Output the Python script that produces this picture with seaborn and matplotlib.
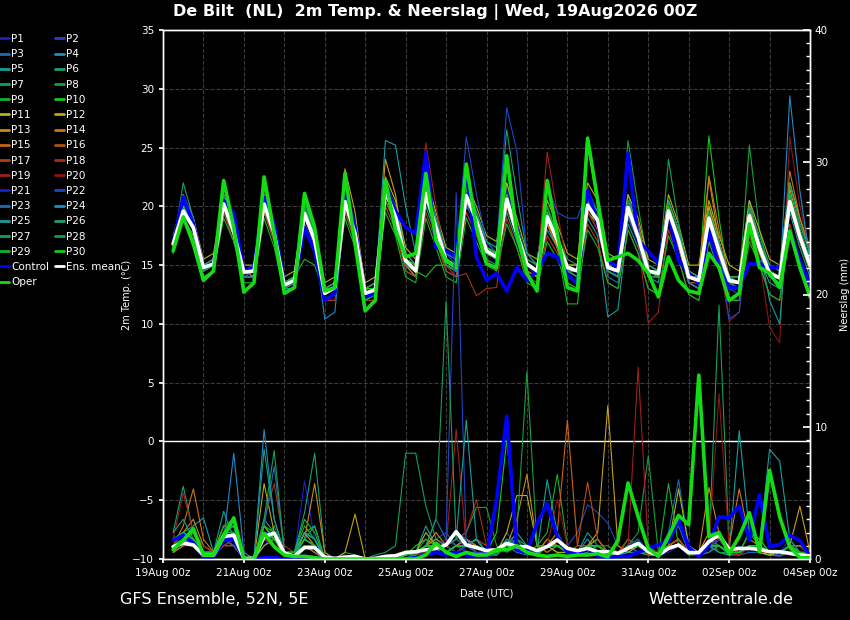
import numpy as np
import pandas as pd
import seaborn as sb
import matplotlib
matplotlib.use('Agg')
import matplotlib.pyplot as plt
from matplotlib.lines import Line2D
from matplotlib.ticker import MultipleLocator
import matplotlib.dates as mdates

# 6-hourly steps, 19Aug 06z .. 04Sep 00z
times = pd.date_range('2026-08-19 06:00', periods=64, freq='6h')

member_names = ['P' + str(i + 1) for i in range(30)]
base_colors = ['#1e1ec8', '#1e46c8', '#1e6eb4', '#1e8cc8', '#14a0a0',
               '#14a07a', '#14a05a', '#14a03c', '#14b428', '#14c814',
               '#b4b414', '#c8a014', '#c88c14', '#c87814', '#c86414',
               '#b45014', '#b43c14', '#a03214', '#a01e1e', '#8c1414']
member_colors = base_colors + base_colors[:10]

# 2m temperature (C)
temp_mean = [16.8, 19.6, 18.2, 14.8, 15.1, 20.2, 17.8, 14.4, 14.5, 20.2, 17.7,
             13.3, 13.7, 19.4, 17.1, 12.6, 13.1, 20.4, 17.7, 12.6, 12.9, 21.3,
             19.1, 15.4, 14.5, 21.1, 18.2, 15.4, 14.8, 20.9, 18.8, 16.2, 15.7,
             20.6, 17.7, 15.1, 14.5, 19.1, 17.1, 14.8, 14.5, 20.1, 18.8, 14.8,
             14.5, 19.9, 17.4, 14.5, 14.3, 19.6, 17.1, 14.0, 13.7, 19.0, 16.2,
             13.7, 13.5, 19.2, 16.5, 14.3, 13.9, 20.4, 17.4, 15.0]
temp_control = [16.8, 20.8, 18.5, 14.8, 15.1, 20.5, 19.4, 14.5, 14.8, 20.8, 18.5,
                13.4, 13.6, 18.2, 16.2, 12.0, 12.6, 21.6, 18.2, 12.3, 12.6, 21.9,
                19.6, 18.2, 17.7, 24.5, 16.5, 16.2, 15.7, 23.3, 15.7, 13.7, 14.3,
                12.8, 14.8, 13.7, 14.5, 16.0, 15.7, 14.2, 13.4, 21.3, 18.5, 15.4,
                14.8, 24.5, 17.1, 16.2, 15.1, 19.4, 15.4, 14.3, 13.4, 17.9, 14.8,
                13.1, 13.1, 15.1, 15.1, 14.8, 14.8, 17.9, 15.4, 13.4]
temp_oper = [16.2, 19.1, 16.8, 13.7, 14.5, 22.2, 18.2, 12.7, 13.5, 22.5, 17.7,
             12.6, 13.1, 21.1, 18.2, 12.8, 13.1, 22.8, 16.8, 11.1, 12.0, 22.2,
             18.0, 15.7, 16.0, 22.8, 17.1, 15.4, 14.8, 23.6, 18.2, 15.1, 14.8,
             24.3, 17.7, 14.3, 12.8, 22.2, 17.7, 13.1, 12.8, 25.8, 20.5, 15.4,
             15.7, 16.0, 15.4, 14.3, 12.3, 15.7, 13.7, 12.8, 12.6, 16.0, 14.8,
             12.0, 12.6, 18.5, 14.8, 14.3, 13.1, 17.9, 14.8, 12.3]
temp_members = [
    [17, 20.5, 18.5,  15, 15.5, 21, 18,  14.5, 14.5, 20.5, 18,  13.5, 14, 20, 17,  12.5, 13, 21, 18,  12.5, 13, 22, 19.5,  15, 14.5, 22, 18,  15, 14, 21, 18.5,  16, 15.5, 21.5, 18,  15, 14, 19, 17,  14.5, 14, 21, 19,  15, 14, 20.5, 17,  14, 14, 19, 16.5,  13.5, 13, 18.5, 16,  13, 13, 19, 16,  14, 13.5, 21, 17,  15],
    [16.5, 20, 18,  14.5, 15, 20, 17.5,  14, 14.5, 20, 17.5,  13, 13.5, 19, 17,  12.5, 13, 20, 17.5,  12.5, 13, 21, 19,  15.5, 15, 21.5, 18.5,  16, 15, 22, 19.5,  17, 16.5, 28.4, 24.7,  16, 15, 19.5, 17,  15, 14.5, 20, 18.5,  14.5, 14, 19, 17,  14.5, 14, 19.5, 17,  14, 13.5, 18.5, 16,  13, 12.5, 19, 16.5,  14.5, 14, 20, 17.5,  15.5],
    [17, 19.5, 18,  14.5, 15, 20.5, 18,  14.5, 14, 19.5, 17.5,  13.5, 13.5, 19.5, 17.5,  12.5, 13, 20, 17.5,  12, 12.5, 21, 19,  15, 14, 20.5, 18,  15.5, 15, 20, 18.5,  16.5, 15.5, 20.5, 17.5,  15, 14.5, 18.5, 16.5,  14.5, 14, 19.5, 18.5,  14, 13.5, 19, 17.5,  14.5, 14, 20, 17.5,  14, 13.5, 18.5, 16,  13.5, 13.5, 18.5, 16,  14, 13.5, 20.5, 17,  14.5],
    [17, 20, 18.5,  15, 15, 20, 17.5,  14.5, 14.5, 20.5, 18,  13, 13.5, 19.5, 17,  12.5, 13, 20.5, 18,  13, 13, 21.5, 19.5,  15.5, 14.5, 21, 18,  15, 14.5, 21.5, 19,  16, 15.5, 20, 17.5,  15, 14.5, 19, 17.5,  15, 14.5, 20.5, 19,  15, 14.5, 19.5, 17,  14.5, 14, 19, 17,  14, 13.5, 19.5, 16.5,  13.5, 13.5, 19, 16.5,  14.5, 14, 21, 17.5,  15],
    [16.5, 19, 17.5,  14.5, 15, 19.5, 17.5,  14, 14, 19.5, 17,  13, 13, 18.5, 16.5,  12, 12.5, 19.5, 17,  12, 12.5, 20.5, 18.5,  14.5, 14, 20, 17.5,  14.5, 14, 20.5, 18,  15.5, 15, 19.5, 17,  14.5, 14, 18, 16.5,  14, 13.5, 19, 17.5,  10.6, 11.2, 18.5, 16.5,  14, 13.5, 19, 16.5,  13.5, 13, 18, 15.5,  13, 13, 18.5, 15.5,  13.5, 13, 19.5, 16.5,  14],
    [17, 21, 19,  15, 15.5, 21, 18,  14.5, 15, 21, 18.5,  13.5, 14, 20, 17.5,  13, 13.5, 21, 18,  13, 13.5, 22, 19.5,  15.5, 15, 22, 19,  16, 15.5, 22, 19.5,  17, 16, 22, 18.5,  15.5, 15, 20, 17.5,  15, 15, 21, 19.5,  15, 15, 21, 18,  15, 14.5, 20.5, 18,  14.5, 14, 20, 17,  14, 14, 20.5, 17,  15, 14.5, 22, 18.5,  16],
    [16.5, 19.5, 18,  14.5, 15, 20, 18,  14.5, 14.5, 20, 17.5,  13.5, 14, 19.5, 17,  12.5, 13, 20.5, 18,  12.5, 12.5, 21, 19,  15, 14.5, 21, 18,  15, 14.5, 21, 19,  16.5, 16, 21, 17.5,  15, 14.5, 19, 17,  14.5, 14.5, 20, 18.5,  14.5, 14, 20, 17.5,  14.5, 14, 19.5, 17,  14, 13.5, 18, 15.5,  13.5, 13.5, 19, 16.5,  14, 14, 20, 17,  15],
    [17, 20, 18.5,  15, 15, 20, 18,  14, 14.5, 20.5, 18,  13, 13.5, 19, 17,  12.5, 13, 20, 17.5,  12.5, 13, 21, 19,  15.5, 14.5, 21, 18.5,  15.5, 15, 21, 19,  16, 15.5, 20.5, 18,  15, 14.5, 19.5, 17.5,  15, 14.5, 20, 19,  15, 14.5, 25.6, 20,  15, 14.5, 20, 17.5,  14, 14, 19.5, 16.5,  14, 13.5, 25.2, 18,  14.5, 14, 20.5, 17.5,  15],
    [16.5, 19.5, 18,  14.5, 15, 20, 17.5,  14.5, 14.5, 20, 17.5,  13.5, 14, 15.5, 15,  12.5, 13, 20, 17.5,  12.5, 13, 21, 19,  15, 14.5, 20.5, 18,  15, 14.5, 20.5, 18.5,  16, 15.5, 20, 17.5,  14.5, 14, 18.5, 16.5,  11.7, 11.7, 19.5, 18.5,  14.5, 14, 19.5, 17,  14.5, 14, 19.5, 17,  14, 13.5, 18.5, 16,  13.5, 13, 19, 16.5,  14, 13.5, 20, 17,  14.5],
    [17, 20, 18,  15, 15, 20.5, 18,  14.5, 14.5, 20.5, 18,  13.5, 14, 19.5, 17.5,  12.5, 13, 20.5, 17.5,  12.5, 13, 21.5, 19,  15, 14.5, 14, 15,  15, 14.5, 21, 19,  16, 15.5, 21, 18,  15, 14.5, 19, 17,  14.5, 14.5, 20.5, 19,  15, 14.5, 20, 17.5,  14.5, 14.5, 19.5, 17.5,  14, 13.5, 26, 19,  13.5, 13.5, 19, 16.5,  14.5, 14, 20.5, 17.5,  15],
    [17.5, 20.5, 19,  15.5, 16, 21, 18.5,  15, 15, 21, 18.5,  14, 14.5, 20.5, 18,  13.5, 14, 21.5, 18.5,  13.5, 14, 22.5, 20.5,  16.5, 15.5, 22.5, 19.5,  16.5, 16, 22, 20,  17.5, 17, 22, 19,  16, 15.5, 20.5, 18.5,  16, 15.5, 22, 20.5,  16, 15.5, 21, 19,  15.5, 15, 21, 18.5,  15, 15, 20.5, 17.5,  15, 14.5, 20.5, 18,  15.5, 15, 22, 19,  16.5],
    [17, 21, 19,  15, 15.5, 21, 18.5,  14.5, 15, 21, 18.5,  13.5, 14, 20, 17.5,  13, 13.5, 23.2, 19.5,  13, 13.5, 24, 21,  15.5, 15, 21.5, 18.5,  15.5, 15, 21.5, 19,  16.5, 16, 21, 18,  15, 14.5, 19.5, 17.5,  15, 15, 25.4, 20,  15, 14.5, 20, 17.5,  14.5, 14, 20, 17.5,  14, 14, 20, 17,  14, 13.5, 20, 17,  14.5, 14, 21.5, 18,  15.5],
    [16.5, 19.5, 18,  15, 15, 20, 17.5,  14.5, 14, 19.5, 17.5,  13, 13.5, 19, 17,  12.5, 13, 20, 17.5,  12.5, 13, 21, 19,  15, 14, 21, 18,  15, 14.5, 20.5, 18.5,  16, 15.5, 20, 17.5,  14.5, 14, 18.5, 16.5,  14.5, 14, 19.5, 18.5,  14.5, 14, 19.5, 17,  14, 14, 19, 16.5,  13.5, 13, 22.4, 17,  13.5, 13, 19, 16,  14, 13.5, 20, 17,  14.5],
    [17, 20.5, 18.5,  15, 15.5, 20.5, 18,  14.5, 14.5, 20.5, 18,  13.5, 14, 19.5, 17.5,  13, 13.5, 21, 18,  13, 13, 22, 20,  16, 15, 22, 19,  16, 15.5, 21.5, 19,  16.5, 16, 21, 18,  15.5, 15, 19.5, 17.5,  15, 15, 21, 19,  15, 15, 20.5, 18.5,  15, 14.5, 20.5, 18,  14.5, 14, 22.6, 18,  14, 14, 20, 17,  14.5, 14, 23, 19,  16],
    [16.5, 19, 17.5,  14.5, 15, 20, 17.5,  14, 14, 20, 17.5,  13, 13.5, 19, 17,  12.5, 13, 20, 17.5,  12.5, 12.5, 20.5, 18.5,  15, 14.5, 21, 18,  15.5, 15, 21, 18.5,  16, 15.5, 20.5, 17.5,  14.5, 14, 18.5, 16.5,  14.5, 14, 19.5, 18,  14.5, 14, 19.5, 17,  14.5, 14, 19.5, 17,  13.5, 13.5, 18.5, 16,  13.5, 13.5, 19, 16.5,  14, 13.5, 20, 17,  15],
    [17, 19.5, 18,  15, 15, 20, 18,  14.5, 14.5, 20, 17.5,  13.5, 13.5, 19.5, 17,  13, 13, 20.5, 18,  13, 13, 21.5, 19.5,  15.5, 15, 21, 18.5,  15.5, 15, 21, 19,  16.5, 16, 20.5, 18,  15, 14.5, 19, 17,  15, 14.5, 20, 18.5,  15, 14.5, 20, 17.5,  14.5, 14, 20, 17.5,  14, 14, 19, 16.5,  14, 13.5, 19, 16.5,  14.5, 14, 20.5, 17.5,  15],
    [16.5, 19, 17.5,  14, 14.5, 19.5, 17,  14, 14, 19.5, 17,  12.5, 13, 18.5, 16.5,  12, 12, 19.5, 17,  12, 12, 20, 18,  14.5, 14, 19.5, 17,  14.5, 14, 19.5, 17.5,  15.5, 14.5, 19, 16.5,  14, 13.5, 17.5, 16,  13.5, 13, 18.5, 17,  13.5, 13, 18, 16,  13, 12.5, 18, 15.5,  12.5, 12, 17, 14.5,  12, 12, 17.5, 15,  12.5, 12, 18.5, 15.5,  13],
    [17, 20, 18.5,  15, 15, 20.5, 18,  14.5, 14.5, 20.5, 18,  13.5, 14, 19.5, 17.5,  13, 13.5, 21, 18,  13, 13, 21.5, 19.5,  15.5, 15, 22, 18.5,  15, 14, 14.3, 12.4,  13, 13.1, 20, 17.5,  15, 14.5, 19, 17,  15, 14.5, 20.5, 19,  15, 14.5, 20, 17.5,  14.5, 14, 19.5, 17.5,  14, 13.5, 19, 16.5,  13.5, 13.5, 19.5, 17,  14.5, 14, 21, 18,  15.5],
    [17, 19.5, 18,  14.5, 15, 20, 17.5,  14.5, 14.5, 20, 17.5,  13, 13.5, 19.5, 17,  12.5, 13, 20.5, 17.5,  12.5, 13, 21.5, 19.5,  15.5, 15, 25.4, 20,  15.5, 14.5, 21, 18.5,  16, 15.5, 20.5, 18,  15, 14.5, 24.6, 19.5,  15, 14.5, 19.5, 18,  14.5, 14, 19.5, 17,  10.1, 11, 19, 16.5,  14, 13.5, 18.5, 16,  13.5, 13, 19, 16.5,  14, 13.5, 20, 17,  15],
    [16.5, 19.5, 18,  15, 15, 20, 17.5,  14, 14.5, 20, 17.5,  13, 13.5, 19, 17,  12.5, 13, 20, 17.5,  12.5, 13, 21, 19,  15, 14.5, 21, 18,  15.5, 15, 21, 18.5,  16, 15.5, 20.5, 17.5,  15, 14.5, 19, 17,  14.5, 14, 20, 18.5,  14.5, 14, 19.5, 17,  14, 14, 19.5, 17,  13.5, 13, 19, 15.5,  10.2, 11, 18.5, 15.5,  9.7, 8.4, 25.9, 20,  16],
    [17, 20, 18,  15, 15, 20.5, 18,  14.5, 14.5, 20.5, 18,  13.5, 14, 19.5, 17,  12.5, 13, 20.5, 17.5,  12.5, 13, 21.5, 19,  15.5, 14.5, 21, 18,  15.5, 15, 21, 19,  16.5, 16, 20.5, 17.5,  15, 14.5, 19, 17,  15, 14.5, 20, 18.5,  14.5, 14, 20, 17.5,  14.5, 14, 19.5, 17,  14, 13.5, 19, 16,  13.5, 13.5, 19, 16.5,  14.5, 14, 20.5, 17.5,  15],
    [16.5, 20, 18.5,  14.5, 15, 20, 18,  14, 14.5, 20, 17.5,  13, 13.5, 19.5, 17,  12.5, 13, 20.5, 18,  12.5, 13, 22, 19.5,  15.5, 15, 21.5, 19,  16, 15.5, 25.9, 21,  17, 16, 21, 18.5,  15.5, 15, 21.8, 19.5,  19, 19, 21.5, 19.5,  15, 14.5, 19.5, 17.5,  14.5, 14, 19.5, 17,  14, 13.5, 19, 16.5,  10.4, 11, 19, 16.5,  14, 13.5, 20, 17.5,  15.5],
    [17, 20.5, 18.5,  15, 15.5, 21, 18,  14.5, 15, 20.5, 18,  13.5, 14, 20, 17.5,  13, 13.5, 21, 18,  13, 13.5, 22, 19.5,  16, 15, 21.5, 18.5,  15.5, 15, 21.5, 19,  16.5, 16, 21, 18,  15, 14.5, 19.5, 17.5,  15, 14.5, 20.5, 19,  15, 14.5, 20.5, 17.5,  14.5, 14.5, 20, 17.5,  14, 14, 19.5, 16.5,  14, 13.5, 19.5, 17,  14.5, 14, 21, 18,  15.5],
    [16.5, 19.5, 18,  14.5, 15, 20, 17.5,  14, 14, 20, 17.5,  13, 13, 19, 17,  10.4, 11, 20, 17.5,  12, 12.5, 21, 19,  15, 14.5, 21, 18,  15, 14.5, 21, 18.5,  16, 15.5, 20.5, 17.5,  15, 14.5, 19, 17,  14.5, 14, 20, 18.5,  14.5, 14, 19.5, 17,  14, 14, 19.5, 17,  13.5, 13, 18.5, 16,  13.5, 13, 19, 16.5,  14, 13.5, 29.4, 21.3,  15.5],
    [17, 20, 18.5,  15, 15, 20.5, 18,  14.5, 14.5, 20.5, 18,  13.5, 14, 19.5, 17.5,  12.5, 13, 20.5, 18,  12.5, 13, 25.6, 25.2,  20, 16, 21, 18.5,  15.5, 15, 21, 19,  16.5, 16, 20.5, 18,  15, 14.5, 19.5, 17,  15, 14.5, 20.5, 19,  14.5, 14, 20, 17.5,  14.5, 14, 19.5, 17,  14, 13.5, 19, 16.5,  13.5, 13, 19.5, 16.5,  12, 10, 20.5, 17.5,  15],
    [16.5, 22, 19,  15, 15, 22, 18.5,  14.5, 15, 21.5, 18.5,  13.5, 14, 20.5, 17.5,  13, 13.5, 21, 18.5,  13, 13.5, 22, 20,  16, 15, 22, 19,  16, 15.5, 22, 19.5,  17, 16.5, 26.5, 21,  16, 15, 20, 17.5,  15.5, 15, 21, 19.5,  15, 14.5, 20.5, 18,  15, 14.5, 20.5, 18,  14.5, 14, 19.5, 17,  14, 14, 20, 17.5,  15, 14.5, 22, 18.5,  16],
    [17, 20, 18,  14.5, 15, 20.5, 18,  14.5, 14.5, 20, 17.5,  13, 13.5, 19.5, 17,  12.5, 13, 20.5, 17.5,  12.5, 13, 21, 19,  15, 14.5, 21, 18,  15, 14.5, 21, 18.5,  16, 15.5, 20.5, 17.5,  15, 14.5, 19, 17,  14.5, 14, 20, 18.5,  14.5, 14, 20, 17.5,  14.5, 14, 24, 18.5,  14, 13.5, 19, 16.5,  13.5, 13, 19, 16.5,  14, 13.5, 20.5, 17.5,  15],
    [17, 20.5, 18.5,  15, 15.5, 20.5, 18,  14.5, 14.5, 20.5, 18,  13.5, 14, 20, 17.5,  13, 13, 21, 18,  12.5, 13, 21.5, 19.5,  15.5, 15, 21.5, 18.5,  15.5, 15, 21.5, 19,  16.5, 16, 21, 18,  15.5, 15, 20, 17.5,  15, 14.5, 20.5, 19,  15, 14.5, 20.5, 18,  14.5, 14, 20, 17.5,  14, 13.5, 19.5, 16.5,  14, 13.5, 19.5, 17,  14.5, 14, 21, 18,  15.5],
    [16, 19, 17.5,  14, 14.5, 19, 17,  13.5, 13.5, 19, 16.5,  12.5, 13, 18, 16,  12, 12.5, 19, 16.5,  12, 12.5, 19.5, 17.5,  14, 13.5, 19, 16.5,  14, 13.5, 19, 17,  15, 14.5, 18.5, 16.5,  13.5, 13, 17, 15.5,  13.5, 13, 18, 16.5,  13.5, 13, 18, 16,  13, 12.5, 17.5, 15.5,  12.5, 12, 17, 14.5,  12, 12, 17, 15,  12.5, 12, 18, 15.5,  13.5],
    [17, 20, 18.5,  15, 15, 20.5, 18,  14.5, 14.5, 20.5, 18,  13.5, 14, 19.5, 17.5,  12.5, 13, 21, 18,  13, 13, 21.5, 19.5,  15.5, 15, 21.5, 18.5,  15.5, 15, 21, 19,  16.5, 16, 21, 18,  15, 14.5, 19.5, 17.5,  15, 14.5, 20.5, 19,  15, 14.5, 20, 18,  14.5, 14, 20, 17.5,  14, 13.5, 19, 16.5,  13.5, 13.5, 19.5, 16.5,  14.5, 14, 21, 17.5,  15],
]

# precipitation (mm / 6h)
prec_mean = [0.93, 1.2, 1.06, 0.3, 0.3, 1.7, 1.8, 0.05, 0.05, 1.7, 1.95,
             0.45, 0.2, 0.86, 0.86, 0.13, 0.05, 0.13, 0.2, 0.0, 0.05, 0.2,
             0.25, 0.5, 0.55, 0.7, 0.8, 1.06, 2.07, 1.06, 0.86, 0.63, 0.7,
             1.19, 0.93, 0.93, 0.63, 0.93, 1.44, 0.8, 0.63, 0.8, 0.55, 0.55,
             0.43, 0.8, 1.19, 0.55, 0.3, 0.8, 1.06, 0.48, 0.48, 1.31, 1.82,
             0.73, 0.8, 0.8, 0.73, 0.55, 0.55, 0.43, 0.3, 0.23]
prec_control = [1.4, 1.8, 1.2, 0.15, 0.15, 1.4, 1.5, 0, 0, 0.1, 0.1,
                0, 0, 0.2, 0.1, 0, 0, 0, 0, 0, 0, 0,
                0, 0, 0.1, 0.3, 0.5, 0.3, 0.5, 0.3, 0.2, 0.2, 4.5,
                10.8, 0.7, 0.5, 2.7, 4.2, 1.7, 0.5, 0.4, 0.8, 0.2, 0.1,
                0.2, 0.2, 0.5, 0.8, 1.06, 1.3, 2.95, 0.9, 0.2, 1.0, 3.2,
                3.1, 4.0, 1.44, 4.85, 0.93, 1.1, 1.8, 1.4, 0.2]
prec_oper = [0.7, 1.4, 2.3, 0.3, 0.3, 1.7, 3.1, 0, 0, 1.95, 0.93,
             0.3, 0.2, 0.2, 0.1, 0, 0, 0, 0, 0, 0, 0,
             0, 0, 0, 0.3, 1.2, 0.5, 0.2, 0.5, 0.3, 0.3, 0.7,
             0.7, 1.0, 0.5, 0.3, 0.2, 0.3, 0.2, 0.3, 0.3, 0.4, 0.15,
             1.4, 5.75, 3.2, 0.8, 0.2, 1.7, 3.3, 2.6, 13.9, 1.7, 2.0,
             0.4, 1.7, 3.5, 0.55, 6.7, 3.2, 0.9, 0.1, 0.1]
prec_members = [
    [1, 1.5, 1,  0.3, 0.2, 1, 1.5,  0, 0, 1, 2,  0.5, 0.3, 5.9, 1.5,  0, 0, 0, 0,  0, 0, 0, 0,  0, 0, 0.5, 0.5,  1, 2, 0.5, 0.3,  0, 0.5, 1, 0.5,  0.5, 0.3, 1, 1.5,  0.5, 0.3, 1, 0.5,  0.3, 0.3, 0.5, 1,  0.5, 0.2, 0.5, 1,  0.3, 0.3, 1.5, 2,  0.5, 1, 0.5, 0.5,  0.3, 0.5, 0.3, 0.2,  0],
    [1.5, 2, 1.5,  0.5, 0.3, 1.5, 1,  0, 0, 2, 1.5,  0.3, 0.2, 1, 1,  0, 0, 0, 0,  0, 0, 0, 0,  0.3, 0.5, 1, 1.5,  2, 1, 0.5, 0.5,  0.3, 0.5, 2, 1,  0.5, 0.5, 1, 1,  1, 2, 4.1, 3.5,  2.7, 1, 0.5, 0.5,  0.3, 0.3, 1, 1,  0.3, 0.3, 0.5, 1.5,  0.5, 0.5, 1, 1,  0.5, 0.3, 0.5, 0.3,  0],
    [0.5, 1, 1.5,  0.3, 0.3, 2, 2.5,  0, 0, 1.5, 1,  0.3, 0.3, 1.5, 1,  0, 0, 0, 0.2,  0, 0, 0, 0,  0, 0.3, 1, 3,  1.5, 1, 1.5, 1,  0.5, 0.3, 1, 0.5,  0.3, 0.5, 1, 0.5,  0.5, 0.3, 0.5, 1,  0.5, 0.3, 1, 1.5,  0.5, 0.5, 2, 6,  1, 0.5, 1, 0.5,  0.3, 0.3, 0.5, 0.5,  0.3, 0.2, 0.5, 0.5,  0],
    [1, 1.5, 1,  0.5, 0.3, 1.5, 8,  0.5, 0, 1.5, 1,  0.5, 0.3, 1, 0.5,  0, 0, 0, 0,  0, 0, 0, 0,  0, 0, 0.5, 0.5,  1, 2, 1.5, 0.5,  0.3, 0.5, 1, 1.5,  0.5, 0.3, 1, 1,  0.5, 0.5, 1.5, 0.5,  0.3, 0.3, 0.5, 1,  0.5, 0.3, 1.5, 2.5,  0.5, 0.3, 1, 0.5,  0.3, 0.5, 1, 0.5,  0.3, 0.3, 1, 0.5,  0.3],
    [1.5, 2, 2.5,  3.1, 0.5, 1.5, 2,  0, 0, 2, 1.5,  0.5, 0.5, 2, 1.5,  0, 0, 0.3, 0,  0, 0, 0, 0,  0, 0.5, 2.5, 1,  0.5, 1, 1, 1.5,  0.5, 0.5, 1, 2,  1, 0.5, 6, 2,  0.5, 0.3, 1, 0.5,  0.3, 0.5, 1, 0.5,  0.5, 0.3, 1, 1.5,  0.5, 0.3, 1, 1,  0.5, 9.7, 2, 1,  0.5, 0.5, 1, 0.5,  0.5],
    [2, 5.5, 2,  1, 0.5, 2, 2.5,  0, 0, 3, 2,  0.5, 0.5, 3.5, 8,  0.5, 0, 0.5, 0.3,  0, 0, 0, 0,  0, 0.3, 1, 1.5,  1, 0.5, 1, 1,  0.5, 0.3, 1.5, 1,  0.5, 0.3, 1, 2,  0.5, 0.5, 2, 1,  0.5, 0.3, 0.5, 0.5,  0.3, 0.3, 1, 1,  0.5, 0.3, 0.5, 1,  0.3, 0.5, 2, 1.5,  0.5, 0.5, 1, 1,  0.5],
    [1, 2, 1.5,  0.5, 0.5, 2.5, 3,  0, 0, 2, 1.5,  0.3, 0.3, 1, 0.5,  0, 0, 0, 0,  0, 0.3, 0.5, 1,  8, 8, 4, 1.5,  1, 0.5, 1, 0.5,  0.3, 0.3, 1, 1,  0.5, 0.3, 1, 1.5,  0.5, 0.3, 1, 0.5,  0.3, 0.3, 1, 1.5,  0.5, 0.3, 1, 1,  0.5, 0.3, 1, 19.2,  1, 0.5, 1, 0.5,  0.3, 0.3, 0.5, 0.5,  0.3],
    [1.5, 1, 2,  0.5, 0.5, 1.5, 1.5,  0, 0, 1.5, 2.5,  0.5, 0.3, 2, 1.5,  0.3, 0, 0, 0,  0, 0, 0, 0,  0.3, 0.5, 1.5, 1,  1, 1.5, 2, 3.9,  3.9, 1, 0.5, 1,  0.5, 0.5, 1.5, 1,  0.5, 0.3, 0.5, 1,  1, 0.5, 1, 2,  7.8, 0.5, 1, 1.5,  0.5, 0.3, 1.5, 0.5,  0.5, 0.3, 1, 0.5,  0.5, 0.3, 0.5, 0.5,  0.3],
    [1, 1.5, 1,  0.3, 0.3, 2, 2,  0, 0, 2.5, 1.5,  0.5, 0.5, 2.5, 1.5,  0, 0, 0, 0,  0, 0, 0, 0,  0, 0.3, 1, 1,  0.5, 1, 1.5, 1,  0.5, 0.5, 1, 1,  0.5, 1, 2, 6.4,  1, 0.5, 1, 1.5,  0.5, 0.3, 1.5, 1,  0.5, 0.5, 1, 1,  0.3, 0.5, 1, 1.5,  0.5, 0.5, 1, 0.5,  0.3, 0.5, 1, 1,  0.5],
    [1, 2, 1.5,  0.5, 0.3, 2, 3,  0, 0, 2.5, 2,  0.3, 0.3, 2, 2.5,  0, 0, 0, 0,  0, 0, 0, 0,  0.3, 1, 1.5, 1,  1, 0.5, 1, 1,  0.5, 2, 9, 1.5,  1, 0.5, 1, 1.5,  0.5, 0.3, 1, 0.5,  0.5, 0.3, 1, 1.5,  0.5, 0.3, 1, 1,  0.5, 0.3, 1.5, 1,  0.5, 0.5, 2, 1.5,  0.5, 0.3, 1, 0.5,  0.5],
    [0.5, 1, 1.5,  0.3, 0.3, 1.5, 1,  0, 0, 1, 1.5,  0.3, 0.3, 2, 1,  0, 0, 0, 0,  0, 0, 0, 0.3,  0.5, 0.5, 2, 1,  0.5, 1, 1.5, 1,  0.5, 0.5, 2, 4.8,  4.8, 1, 1, 0.5,  0.5, 0.3, 1, 1,  0.5, 0.5, 1, 1,  0.3, 0.3, 1, 5.3,  1, 0.5, 1, 1.5,  0.5, 0.5, 1, 0.5,  0.3, 0.5, 1, 1,  0.3],
    [1, 1.5, 1,  0.5, 0.3, 1, 1.5,  0, 0, 5.7, 2,  0.5, 0.3, 1.5, 1,  0, 0, 0.5, 3.4,  0, 0, 0, 0,  0, 0.5, 1, 1,  0.5, 1, 1, 1.5,  0.5, 0.5, 1, 1,  0.5, 0.3, 1, 1.5,  0.5, 0.5, 1, 2,  11.6, 1, 0.5, 1,  0.5, 0.3, 1, 1.5,  0.5, 0.5, 2, 1.5,  1, 0.5, 1, 1,  0.5, 0.5, 1, 4,  0.5],
    [1.5, 2, 3,  1, 0.5, 2, 2,  0, 0, 2, 1.5,  0.5, 0.5, 1.5, 5.7,  0.5, 0, 0, 0,  0, 0, 0, 0,  0, 0.3, 1, 2,  1, 0.5, 1, 1,  0.5, 0.5, 1, 3,  6.4, 1, 0.5, 1,  0.5, 0.3, 1, 1.5,  0.5, 0.5, 1, 1,  0.5, 0.3, 1, 1.5,  0.5, 0.5, 5.4, 2,  0.5, 0.5, 1, 1,  0.5, 0.5, 1, 0.5,  0.3],
    [1, 2.5, 5.3,  1.5, 0.5, 1.5, 1,  0, 0, 2.5, 1.5,  0.3, 0.3, 1.5, 1,  0, 0, 0, 0,  0, 0, 0, 0,  0.3, 0.5, 1, 1.5,  1, 0.5, 1, 1.5,  0.5, 0.5, 1, 1,  0.5, 0.5, 1.5, 1,  0.5, 0.3, 1, 0.5,  0.5, 0.3, 1, 1,  0.5, 0.5, 1, 1,  0.5, 0.3, 1, 1.5,  1, 5.3, 1.5, 1,  0.5, 0.5, 1, 0.5,  0.3],
    [0.5, 1, 1.5,  0.5, 0.5, 1, 1,  0, 0, 1.5, 2,  0.5, 0.3, 1, 0.5,  0, 0, 0, 0,  0, 0, 0, 0,  0, 0.3, 1, 1,  0.5, 1, 1.5, 1,  0.5, 0.5, 1, 1,  0.5, 0.3, 1, 2,  10.5, 1, 1, 0.5,  0.5, 0.3, 1, 1,  0.5, 0.3, 1, 1.5,  0.5, 0.5, 1, 1,  0.5, 0.3, 1, 1,  0.5, 0.5, 1, 0.5,  0.3],
    [1, 1.5, 1,  0.5, 0.3, 2, 1.5,  0, 0, 1.5, 1,  0.3, 0.3, 1, 1,  0, 0, 0, 0,  0, 0, 0, 0,  0, 0.3, 0.5, 1,  0.5, 0.5, 1, 1.5,  1, 0.5, 1, 1,  0.5, 0.3, 1, 1,  0.5, 1, 5.8, 1.5,  0.5, 0.3, 1, 1,  0.5, 0.3, 1, 1,  0.5, 0.3, 1, 1.5,  0.5, 0.3, 1, 1,  0.5, 0.5, 1, 1,  0.3],
    [1.5, 1, 1,  0.5, 0.5, 2.5, 2,  0, 0, 2, 1.5,  0.5, 0.3, 1.5, 1,  0, 0, 0, 0,  0, 0, 0, 0,  0.5, 0.5, 1, 1,  0.5, 1, 1, 1.5,  0.5, 0.5, 1, 1,  0.5, 0.5, 1, 1,  0.5, 0.3, 1, 1,  0.5, 0.5, 1.5, 1,  0.5, 0.3, 1, 1.5,  0.5, 0.3, 1, 1.5,  0.5, 0.3, 1, 0.5,  0.5, 0.5, 1, 0.5,  0.5],
    [1, 2, 1.5,  0.5, 0.5, 2.5, 2.5,  0, 0, 3, 5.7,  1, 0.5, 1.5, 1,  0, 0, 0, 0,  0, 0, 0, 0.3,  0.5, 0.5, 1, 1,  1, 1.5, 2, 4.5,  1, 0.5, 1, 1,  0.5, 0.3, 1, 1,  0.5, 0.5, 1, 1,  0.5, 0.5, 1, 1,  0.3, 0.3, 1, 1,  0.5, 0.3, 1, 1,  0.5, 0.3, 1, 1,  0.5, 0.3, 1, 0.5,  0.3],
    [1.5, 5, 2,  1, 0.5, 1.5, 2,  0, 0, 2, 1.5,  0.5, 0.3, 1, 1,  0, 0, 0, 0,  0, 0, 0, 0,  0.5, 0.5, 1, 1,  1, 9.8, 1, 0.5,  0.5, 0.5, 1, 1,  0.5, 0.3, 1, 1,  0.5, 0.3, 1, 1,  0.5, 0.5, 1, 14.5,  1, 0.5, 1, 1,  0.5, 0.3, 1, 1,  0.5, 0.3, 1, 1,  0.5, 0.5, 1, 0.5,  0.3],
    [1, 1.5, 1.5,  0.5, 0.3, 1, 1.5,  0, 0, 1.5, 1,  0.3, 0.3, 1, 1,  0, 0, 0, 0,  0, 0, 0, 0,  0, 0.3, 0.5, 1,  0.5, 1, 1, 1,  0.5, 0.5, 1, 1,  0.5, 0.5, 1, 4.5,  1, 0.5, 1, 1,  0.5, 0.5, 1, 1,  0.5, 0.3, 1, 1,  0.5, 0.3, 1, 12.5,  1, 0.5, 1, 1,  0.5, 0.3, 1, 0.5,  0.3],
    [1, 1.5, 2,  0.5, 0.3, 2, 1.5,  0, 0, 2, 2,  0.5, 0.3, 1.5, 1,  0, 0, 0, 0,  0, 0, 0, 0,  0.3, 0.5, 1, 1,  1, 0.5, 1, 1,  0.5, 0.5, 1.5, 1,  0.5, 0.5, 1, 1.5,  0.5, 0.5, 1, 1,  0.5, 0.3, 1, 1.5,  0.5, 0.3, 1, 1,  0.5, 0.3, 1, 1.5,  0.5, 0.5, 1, 1,  0.5, 0.5, 1.5, 0.5,  0.3],
    [1.5, 2, 1.5,  0.5, 0.5, 1.5, 1,  0, 0, 1.5, 1.5,  0.5, 0.3, 1, 1,  0, 0, 0, 0,  0, 0, 0, 0,  0, 0.5, 1, 1,  1.5, 27.7, 1, 0.5,  0.5, 0.5, 1, 1,  0.5, 0.5, 1, 1,  0.5, 0.5, 1, 1,  0.5, 0.3, 1, 1,  0.5, 0.3, 1, 1,  0.5, 0.3, 1, 1,  0.5, 0.5, 1, 1,  0.5, 0.3, 1, 0.5,  0.3],
    [1, 1.5, 1,  0.5, 0.3, 1.5, 2,  0, 0, 2.5, 7,  0.5, 0.3, 1.5, 1,  0, 0, 0, 0,  0, 0, 0, 0,  0, 0.3, 1, 1,  0.5, 1, 1, 1.5,  0.5, 0.5, 1, 1,  0.5, 0.3, 1, 1,  0.5, 0.5, 1, 1,  0.5, 0.3, 1, 1,  0.5, 0.3, 1, 1,  0.5, 0.3, 1, 1,  0.5, 0.5, 1, 1,  0.5, 0.5, 1, 0.5,  0.3],
    [1.5, 2, 1.5,  0.5, 0.5, 2, 2.5,  0, 0, 9.8, 3,  0.5, 0.5, 2, 1.5,  0, 0, 0, 0,  0, 0, 0, 0,  0.3, 0.5, 1, 1,  0.5, 1, 1, 1.5,  0.5, 0.5, 1, 1,  0.5, 0.3, 1, 1,  0.5, 0.5, 1, 1,  0.5, 0.3, 1, 1,  0.5, 0.3, 1, 1,  0.5, 0.3, 1, 1,  0.5, 0.5, 1, 1,  0.5, 0.5, 1, 0.5,  0.3],
    [1, 1.5, 1,  0.5, 0.5, 3.6, 1.5,  0, 0, 2, 1.5,  0.5, 0.5, 1, 1,  0, 0, 0, 0,  0, 0, 0, 0,  0.3, 0.5, 1, 1,  1, 1.5, 10.5, 1.5,  0.5, 0.5, 1, 1,  0.5, 0.3, 1, 1,  0.5, 0.5, 1, 1,  0.5, 0.3, 1, 1,  0.5, 0.3, 1, 1,  0.5, 0.3, 1, 1,  0.5, 0.5, 1, 1,  8.3, 7.4, 1.5, 0.5,  0.3],
    [2, 3, 1.5,  0.5, 0.5, 2, 2,  0, 0, 8.3, 3,  0.5, 0.5, 1.5, 2.5,  0, 0, 0, 0,  0, 0, 0, 0,  0.3, 0.5, 1, 1,  0.5, 1, 1, 1.5,  0.5, 0.5, 1.5, 1,  0.5, 0.3, 1, 1,  0.5, 0.5, 1, 1,  0.5, 0.3, 1, 1,  0.5, 0.3, 1, 1,  0.5, 0.3, 1, 1,  0.5, 0.5, 1, 1,  0.5, 0.5, 1, 0.5,  0.3],
    [1, 1.5, 1.5,  0.5, 0.5, 2, 2,  0, 0, 3, 8.2,  0.5, 0.5, 1, 1,  0, 0, 0, 0,  0, 0, 0, 0,  0.3, 0.5, 1, 3,  19.5, 1.5, 1, 1,  0.5, 0.5, 1, 1,  0.5, 0.3, 1, 1,  0.5, 0.5, 1, 1,  0.5, 0.3, 1, 1,  0.5, 0.3, 1, 1,  0.5, 0.3, 1, 1,  0.5, 0.5, 1, 1,  0.5, 0.5, 1, 0.5,  0.3],
    [1.5, 2, 1,  0.5, 0.5, 1.5, 1.5,  0, 0, 2, 1.5,  0.5, 0.3, 1, 1,  0, 0, 0, 0,  0, 0, 0, 0,  0, 0.5, 1, 1,  0.5, 1, 1, 1,  0.5, 0.5, 1, 2,  14.2, 1, 1, 1,  0.5, 0.5, 1, 1,  0.5, 0.3, 1, 1,  0.5, 0.3, 1, 1,  0.5, 0.3, 1, 1,  0.5, 0.5, 1, 1,  0.5, 0.5, 1, 0.5,  0.3],
    [1, 1.5, 2,  0.5, 0.5, 2, 3.2,  0, 0, 2, 1.5,  0.5, 0.5, 3, 2,  0, 0, 0, 0,  0, 0, 0, 0,  0, 0.3, 1, 1,  0.5, 1, 1, 1,  0.5, 0.5, 1, 1,  0.5, 0.3, 1, 1,  0.5, 0.5, 1, 1,  0.5, 0.3, 1, 1,  0.5, 0.3, 5.7, 1,  0.5, 0.3, 1, 1,  0.5, 0.5, 1, 1,  0.5, 0.5, 1, 0.5,  0.3],
    [1.5, 2, 1.5,  0.5, 0.5, 2.5, 2.5,  0, 0, 2.5, 1.5,  0.5, 0.3, 1.5, 1,  0, 0, 0, 0,  0, 0, 0, 0,  0.3, 0.5, 1, 1,  0.5, 1, 1, 1,  0.5, 0.5, 1, 1,  0.5, 0.3, 1, 1,  0.5, 0.5, 1, 1,  0.5, 0.3, 1, 1,  0.5, 0.3, 1, 1,  0.5, 0.3, 1, 1,  0.5, 0.5, 1, 1,  0.5, 0.5, 1, 0.5,  0.3],
]

for name, t, p in zip(member_names, temp_members, prec_members):
    assert len(t) == 64 and len(p) == 64, name

sb.set_theme(style='dark', rc={'axes.facecolor': 'black', 'figure.facecolor': 'black',
                               'text.color': 'white', 'axes.labelcolor': 'white',
                               'xtick.color': 'white', 'ytick.color': 'white',
                               'axes.edgecolor': 'white'})
plt.rcParams['font.family'] = ['DejaVu Sans']

# long tables for seaborn
rows_t, rows_p = [], []
for name, tv, pv in zip(member_names, temp_members, prec_members):
    for tm, a, b in zip(times, tv, pv):
        rows_t.append((tm, name, a))
        rows_p.append((tm, name, b))
df_t = pd.DataFrame(rows_t, columns=['time', 'member', 'temp'])
df_p = pd.DataFrame(rows_p, columns=['time', 'member', 'prec'])
pal = dict(zip(member_names, member_colors))

fig, ax = plt.subplots(figsize=(8.5, 6.2), dpi=100)
fig.subplots_adjust(left=163 / 850, right=810 / 850, bottom=1 - 559 / 620, top=1 - 30 / 620)
ax2 = ax.twinx()

sb.lineplot(data=df_t, x='time', y='temp', hue='member', palette=pal,
            linewidth=0.8, legend=False, estimator=None, ax=ax)
sb.lineplot(x=times, y=temp_control, color='#0000ff', linewidth=2.6, ax=ax)
sb.lineplot(x=times, y=temp_mean, color='white', linewidth=2.6, ax=ax)
sb.lineplot(x=times, y=temp_oper, color='#14dc14', linewidth=2.6, ax=ax)

sb.lineplot(data=df_p, x='time', y='prec', hue='member', palette=pal,
            linewidth=0.8, legend=False, estimator=None, ax=ax2)
sb.lineplot(x=times, y=prec_control, color='#0000ff', linewidth=2.6, ax=ax2)
sb.lineplot(x=times, y=prec_mean, color='white', linewidth=2.6, ax=ax2)
sb.lineplot(x=times, y=prec_oper, color='#14dc14', linewidth=2.6, ax=ax2)

ax.axhline(0, color='white', linewidth=1)

ax.set_xlim(pd.Timestamp('2026-08-19'), pd.Timestamp('2026-09-04'))
ax.set_ylim(-10, 35)
ax2.set_ylim(0, 40)

ax.set_xticks(pd.date_range('2026-08-19', '2026-09-04', freq='2D'))
ax.set_xticks(pd.date_range('2026-08-19', '2026-09-04', freq='D'), minor=True)
ax.xaxis.set_major_formatter(mdates.DateFormatter('%d%b 00z'))
ax.set_yticks(range(-10, 36, 5))
ax2.set_yticks(range(0, 41, 10))
ax2.yaxis.set_minor_locator(MultipleLocator(1))

ax.grid(True, which='both', axis='x', linestyle='--', color='#3c3c3c', linewidth=0.8)
ax.grid(True, which='major', axis='y', linestyle='--', color='#3c3c3c', linewidth=0.8)
ax.set_axisbelow(True)

ax.tick_params(axis='both', which='major', labelsize=7.5, length=3, direction='out',
               left=True, bottom=True, colors='white')
ax.tick_params(axis='x', which='minor', length=0)
ax2.tick_params(axis='y', which='major', labelsize=7.5, length=5, direction='in',
                right=True, colors='white')
ax2.tick_params(axis='y', which='minor', length=3, direction='in', right=True, colors='white')

for a in (ax, ax2):
    for s in a.spines.values():
        s.set_color('white')
        s.set_linewidth(1)

ax.set_xlabel('Date (UTC)', fontsize=7)
ax.set_ylabel('2m Temp. (°C)', fontsize=7)
ax2.set_ylabel('Neerslag (mm)', fontsize=7)
ax.xaxis.set_label_coords(0.5, -(589 - 559) / 529)
ax.yaxis.set_label_coords(-(163 - 132) / 647, 0.5)
ax2.yaxis.set_label_coords(1 + (840 - 810) / 647, 0.5)

fig.text(435 / 850, 1 - 12 / 620, 'De Bilt  (NL)  2m Temp. & Neerslag | Wed, 19Aug2026 00Z',
         ha='center', va='center', fontsize=11.5, fontweight='bold', color='white')
fig.text(120 / 850, 1 - 599 / 620, 'GFS Ensemble, 52N, 5E', ha='left', va='center',
         fontsize=11.5, color='white')
fig.text(793 / 850, 1 - 599 / 620, 'Wetterzentrale.de', ha='right', va='center',
         fontsize=11.5, color='white')

# legend: odd members + Control + Oper in col 1, even members + Ens. mean in col 2
def handle(c):
    return Line2D([], [], color=c, linewidth=2)

col1 = [(member_names[i], member_colors[i]) for i in range(0, 30, 2)]
col1 += [('Control', '#0000ff'), ('Oper', '#14dc14')]
col2 = [(member_names[i], member_colors[i]) for i in range(1, 30, 2)]
col2 += [('Ens. mean', 'white')]
entries = col1 + col2
fig.legend([handle(c) for _, c in entries], [n for n, _ in entries], ncol=2,
           loc='upper left', bbox_to_anchor=(0.0, 1 - 34 / 620), frameon=False,
           fontsize=7.5, handlelength=0.9, handletextpad=0.15, columnspacing=0.55,
           labelspacing=0.5, borderaxespad=0, borderpad=0, labelcolor='white')

plt.savefig('out.png', dpi=100, facecolor='black')
